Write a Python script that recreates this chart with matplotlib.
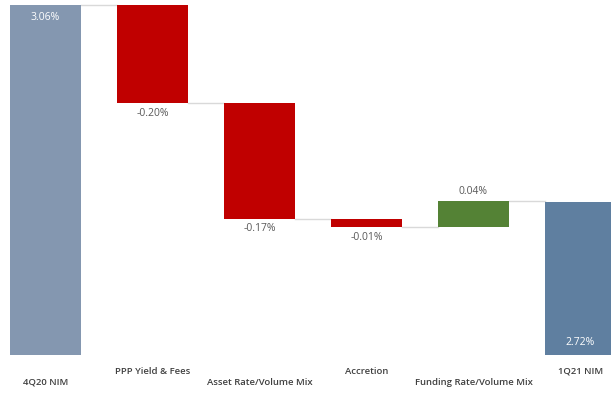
import matplotlib
matplotlib.use('Agg')
import matplotlib.pyplot as plt
import matplotlib.transforms as mtransforms

categories = ['4Q20 NIM', 'PPP Yield & Fees', 'Asset Rate/Volume Mix',
              'Accretion', 'Funding Rate/Volume Mix', '1Q21 NIM']
# bar heights as drawn in the source chart (%), totals first/last
start_nim = 3.06
deltas = [-0.169, -0.200, -0.014, 0.045]
end_nim = 2.72
value_labels = ['3.06%', '-0.20%', '-0.17%', '-0.01%', '0.04%', '2.72%']
axis_floor = 2.456


def main():
    plt.rcParams['font.family'] = ['Open Sans', 'DejaVu Sans']
    fig = plt.figure(figsize=(6.11, 3.94), dpi=100)
    ax = fig.add_axes([0, 0, 1, 1])
    ax.set_xlim(-0.425, 5.285)
    ax.set_ylim(2.3886, 3.0686)
    ax.axis('off')

    width = 0.655
    grey = '#595959'
    line_col = '#d9d9d9'

    # totals
    ax.bar(0, start_nim - axis_floor, bottom=axis_floor, width=width, color='#8497b0')
    ax.bar(5, end_nim - axis_floor, bottom=axis_floor, width=width, color='#5f7fa0')

    level = start_nim
    levels = [level]
    for i, d in enumerate(deltas):
        x = i + 1
        color = '#c00000' if d < 0 else '#548235'
        ax.bar(x, abs(d), bottom=min(level, level + d), width=width, color=color)
        ax.plot([x - 1 + width / 2, x - width / 2], [level, level], color=line_col, lw=1, zorder=0)
        level += d
        levels.append(level)
    ax.plot([4 + width / 2, 5 - width / 2], [level, level], color=line_col, lw=1, zorder=0)

    # value labels
    ax.text(0, start_nim - 0.012, value_labels[0], ha='center', va='top', color='white', fontsize=7.5)
    ax.text(5, axis_floor + 0.012, value_labels[5], ha='center', va='bottom', color='white', fontsize=7.5)
    for i, d in enumerate(deltas):
        x = i + 1
        lo = min(levels[i], levels[i + 1])
        hi = max(levels[i], levels[i + 1])
        if d < 0:
            ax.text(x, lo - 0.008, value_labels[x], ha='center', va='top', color=grey, fontsize=7.5)
        else:
            ax.text(x, hi + 0.006, value_labels[x], ha='center', va='bottom', color=grey, fontsize=7.5)

    # staggered category labels
    trans = mtransforms.blended_transform_factory(ax.transData, ax.transAxes)
    for i, cat in enumerate(categories):
        y = 0.030 if i % 2 == 0 else 0.058
        ax.text(i, y, cat, transform=trans, ha='center', va='center',
                color='#404040', fontsize=6.8, fontweight='semibold')

    fig.savefig('out.png', dpi=100)


if __name__ == "__main__":
    main()
